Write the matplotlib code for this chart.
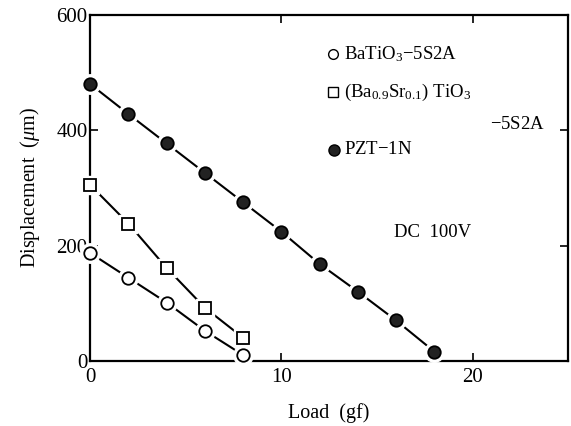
import matplotlib
matplotlib.use("Agg")
import matplotlib.pyplot as plt

plt.rcParams["font.family"] = ["Liberation Serif", "DejaVu Serif"]
plt.rcParams["mathtext.fontset"] = "custom"
plt.rcParams["mathtext.rm"] = "Liberation Serif"
plt.rcParams["mathtext.it"] = "Liberation Serif:italic"

# load (gf) vs displacement (um)
load_ba = [0, 2, 4, 6, 8]
disp_ba = [187, 144, 101, 52, 10]
load_basr = [0, 2, 4, 6, 8]
disp_basr = [305, 238, 161, 92, 40]
load_pzt = [0, 2, 4, 6, 8, 10, 12, 14, 16, 18]
disp_pzt = [480, 428, 377, 326, 275, 224, 168, 120, 70, 16]

xticks = [0, 10, 20]
yticks = [0, 200, 400, 600]

fig = plt.figure(figsize=(5.71, 4.26), dpi=100)
ax = fig.add_axes([0.158, 0.153, 0.837, 0.812])

def series(x, y, marker, face, size):
    ax.plot(x, y, color="black", lw=1.5, zorder=2, clip_on=False)
    # white halo so the line stops short of each marker
    ax.plot(x, y, ls="none", marker=marker, ms=size + 5, mfc="white", mec="white",
            zorder=3, clip_on=False)
    ax.plot(x, y, ls="none", marker=marker, ms=size, mfc=face, mec="black", mew=1.3,
            zorder=4, clip_on=False)

series(load_ba, disp_ba, "o", "white", 9)
series(load_basr, disp_basr, "s", "white", 8)
series(load_pzt, disp_pzt, "o", "#222222", 9)

ax.set_xlim(0, 25)
ax.set_ylim(0, 600)
ax.set_xticks(xticks)
ax.set_yticks(yticks)
ax.tick_params(direction="in", length=6, width=1.2, top=True, right=True,
               labelsize=15, pad=5)
ax.tick_params(axis="y", pad=2)
for s in ax.spines.values():
    s.set_linewidth(1.6)

ax.set_xlabel("Load  (gf)", fontsize=14.5, labelpad=12)
ax.set_ylabel(r"Displacement  ($\mu$m)", fontsize=14.5, labelpad=10)

# legend drawn by hand
ax.plot([0.508], [0.887], "o", ms=7, mfc="white", mec="black", mew=1.0, transform=ax.transAxes)
ax.text(0.530, 0.887, r"BaTiO$_3$$-$5S2A", fontsize=13.5, va="center", transform=ax.transAxes)
ax.plot([0.508], [0.777], "s", ms=7, mfc="white", mec="black", mew=1.0, transform=ax.transAxes)
ax.text(0.530, 0.777, r"(Ba$_{0.9}$Sr$_{0.1}$) TiO$_3$", fontsize=13.5, va="center",
        transform=ax.transAxes)
ax.text(0.952, 0.682, r"$-$5S2A", fontsize=13.5, va="center", ha="right", transform=ax.transAxes)
ax.plot([0.510], [0.610], "o", ms=8, mfc="#222222", mec="black", transform=ax.transAxes)
ax.text(0.530, 0.610, r"PZT$-$1N", fontsize=13.5, va="center", transform=ax.transAxes)
ax.text(0.716, 0.370, "DC  100V", fontsize=13.5, va="center", ha="center", transform=ax.transAxes)

fig.savefig("out.png", dpi=100, facecolor="white")
